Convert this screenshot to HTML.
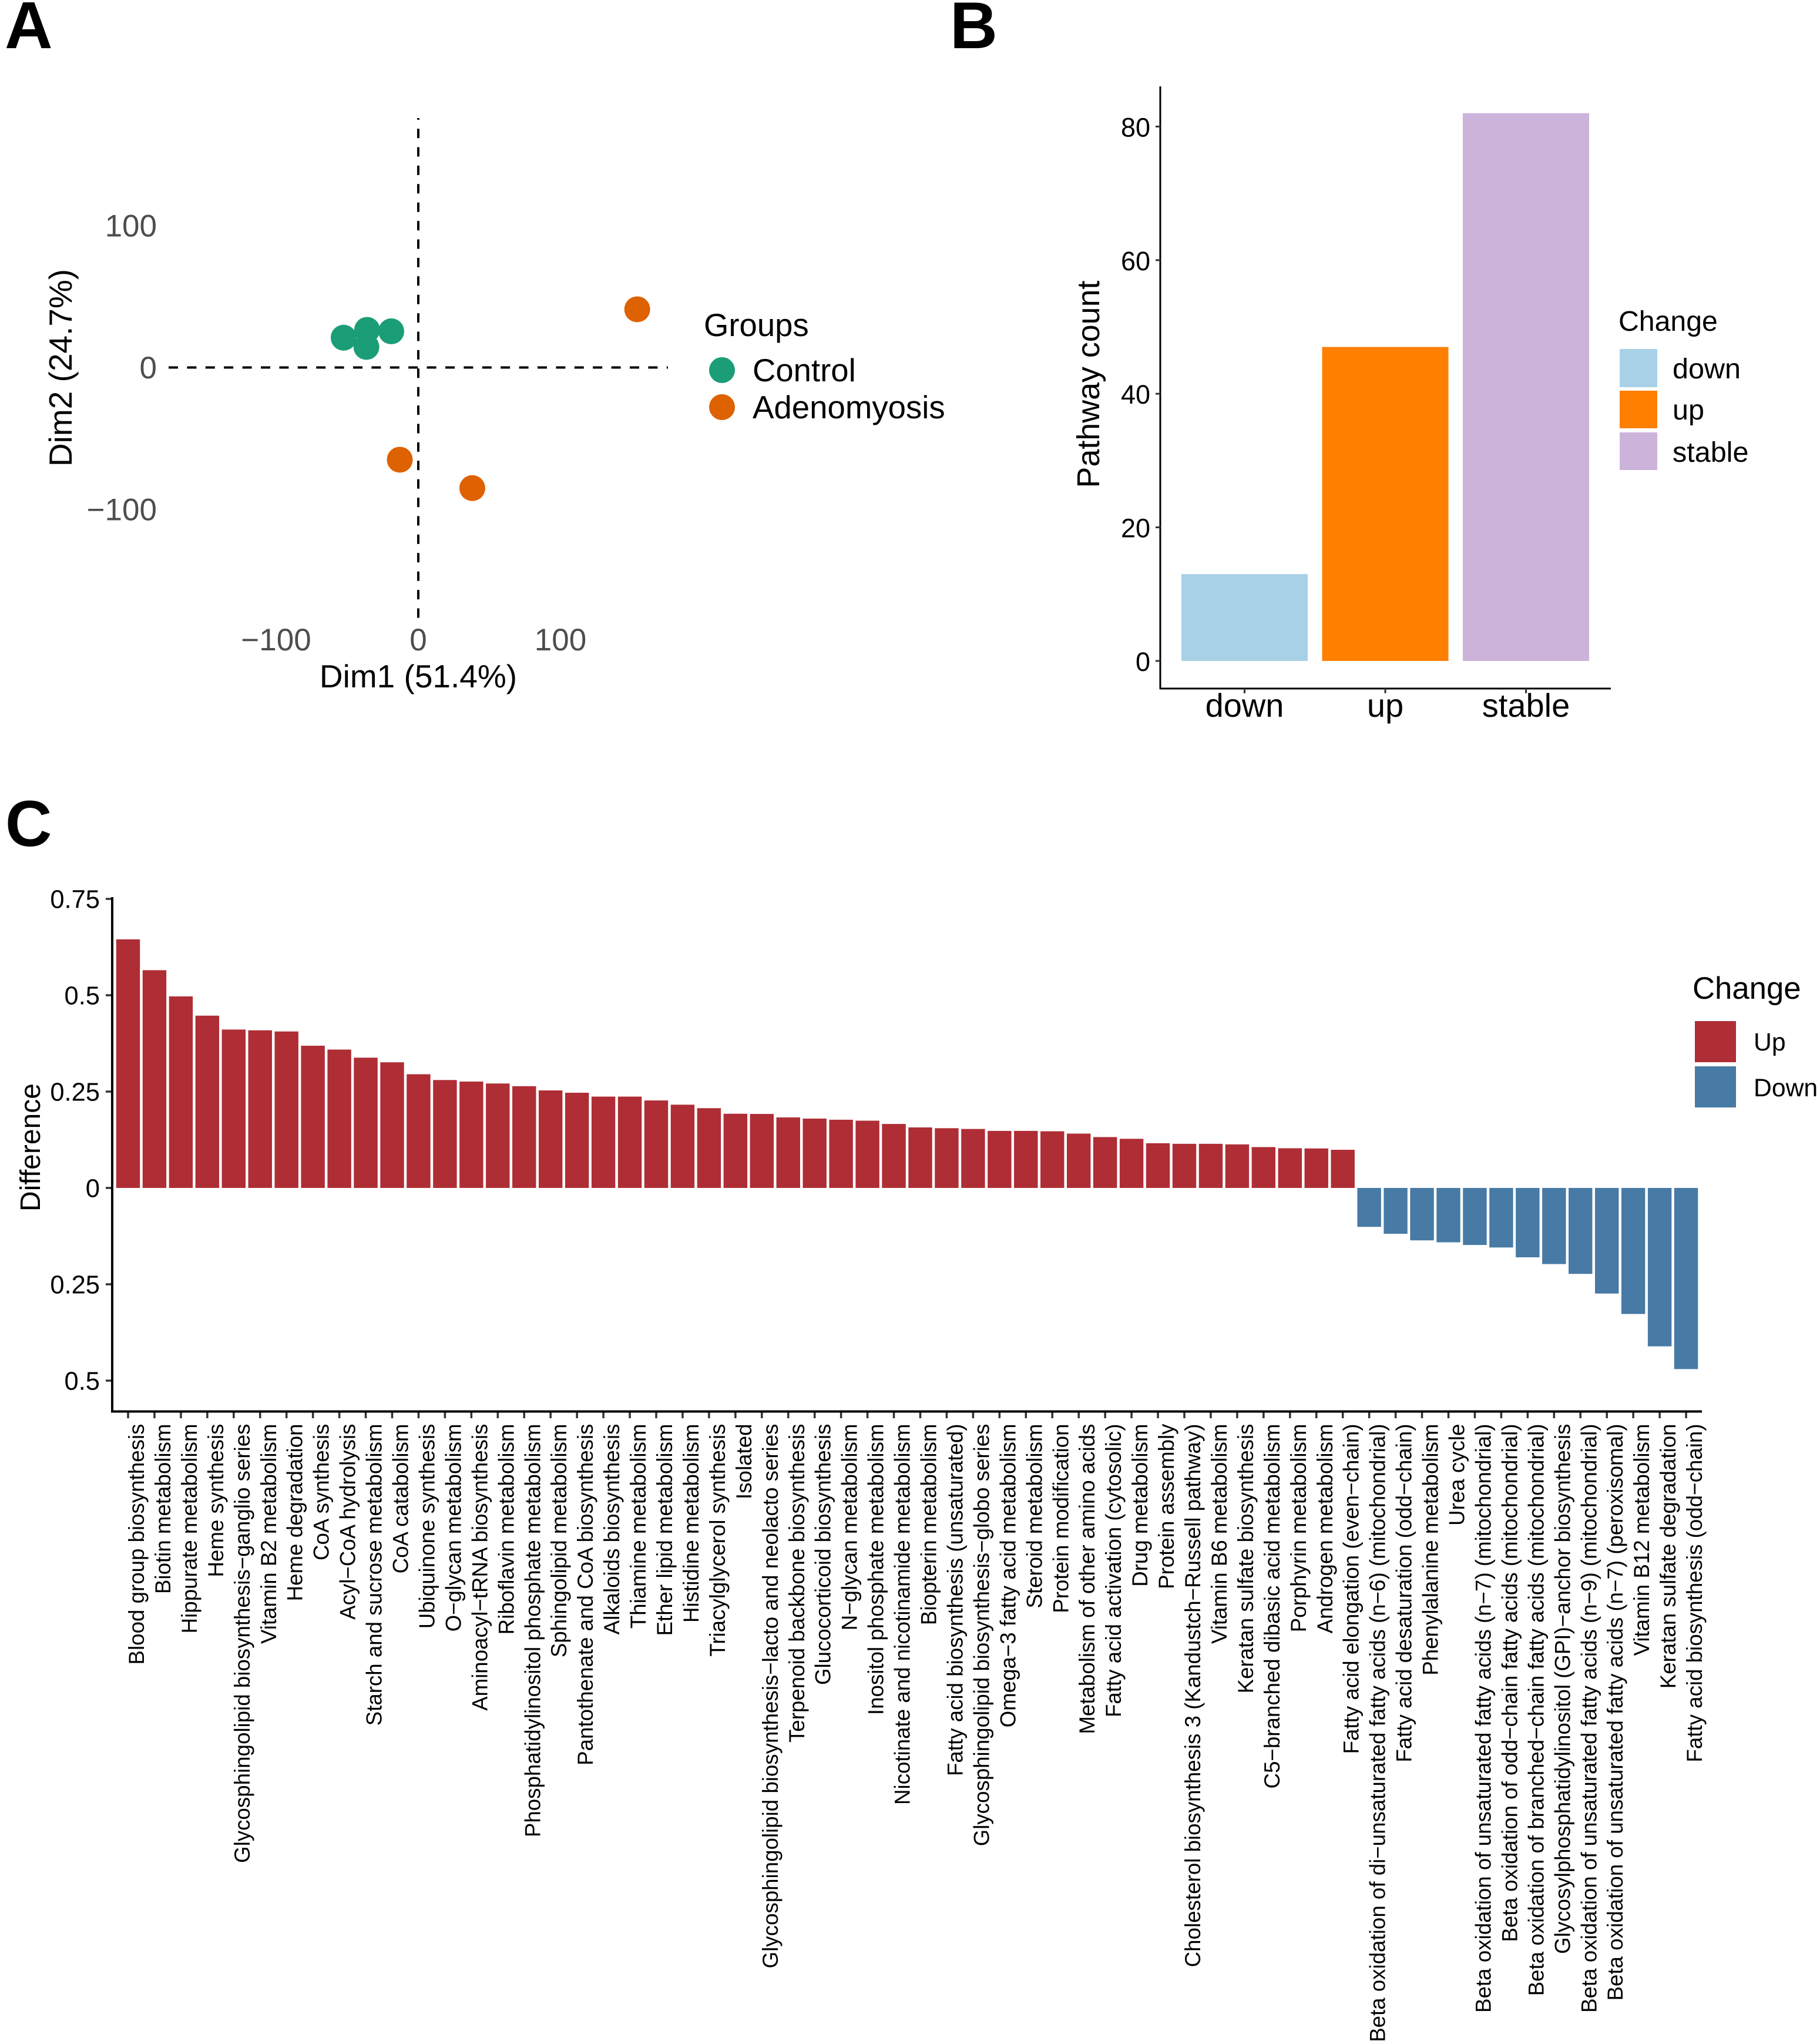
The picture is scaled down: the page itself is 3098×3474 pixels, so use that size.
<!DOCTYPE html>
<html lang="en">
<head>
<meta charset="utf-8">
<title>Pathway analysis figure</title>
<style>
html,body{margin:0;padding:0;background:#fff;}
svg{display:block;font-family:"Liberation Sans",Arial,sans-serif;}
</style>
</head>
<body>
<svg id="fig" xmlns="http://www.w3.org/2000/svg" width="3098" height="3474" viewBox="0 0 3098 3474">
  <rect x="0" y="0" width="3098" height="3474" fill="#ffffff"/>

  <text x="8" y="82" font-size="113" font-weight="700" fill="#000">A</text>
  <text x="1617" y="82" font-size="112" font-weight="700" fill="#000">B</text>
  <text x="9" y="1440" font-size="110" font-weight="700" fill="#000">C</text>

  <g id="panelA">
    <line x1="287" y1="625.5" x2="1137" y2="625.5" stroke="#000" stroke-width="4" stroke-dasharray="16 15.4"/>
    <line x1="712" y1="201" x2="712" y2="1052" stroke="#000" stroke-width="4" stroke-dasharray="16 15.4" stroke-dashoffset="13.3"/>
    <text x="712" y="1170" font-size="55" text-anchor="middle" fill="#000">Dim1 (51.4%)</text>
    <text transform="translate(122,626) rotate(-90)" font-size="55" text-anchor="middle" fill="#000">Dim2 (24.7%)</text>
    <text x="1198" y="572" font-size="54.5" fill="#000">Groups</text>
    <circle cx="1229" cy="630" r="22" fill="#1b9e77"/>
    <text x="1281" y="649" font-size="54.5" fill="#000">Control</text>
    <circle cx="1229" cy="693" r="22" fill="#de6102"/>
    <text x="1281" y="712" font-size="54.6" fill="#000">Adenomyosis</text>
  </g>

  <g id="panelB">
    <line x1="1975" y1="147" x2="1975" y2="1173" stroke="#000" stroke-width="3"/>
    <line x1="1974" y1="1172" x2="2742" y2="1172" stroke="#000" stroke-width="3"/>
    <text transform="translate(1871,654) rotate(-90)" font-size="53.8" text-anchor="middle" fill="#000">Pathway count</text>
    <text x="2755" y="563" font-size="48.2" fill="#000">Change</text>
    <rect x="2757" y="594" width="64" height="65" fill="#a8d1e7"/>
    <text x="2847" y="644" font-size="48.5" fill="#000">down</text>
    <rect x="2757" y="665" width="64" height="64" fill="#ff7f00"/>
    <text x="2847" y="714" font-size="48.5" fill="#000">up</text>
    <rect x="2757" y="736" width="64" height="64" fill="#cbb3da"/>
    <text x="2847" y="786" font-size="48.5" fill="#000">stable</text>
  </g>

  <g id="panelC">
    <text transform="translate(68,1953) rotate(-90)" font-size="48" text-anchor="middle" fill="#000">Difference</text>
    <text x="2881" y="1700" font-size="52.7" fill="#000">Change</text>
    <rect x="2885" y="1738" width="70" height="70" fill="#af2d35"/>
    <text x="2985" y="1788" font-size="42.7" fill="#000">Up</text>
    <rect x="2885" y="1815" width="70" height="70" fill="#477aa5"/>
    <text x="2985" y="1866" font-size="42.7" fill="#000">Down</text>
  </g>
</svg>
<script>
// Panel A data
const pcaControlX = [-52.5, -36, -36.5, -19];
const pcaControlY = [21, 26.5, 14.5, 25.5];
const pcaAdenoX = [154, -13, 38];
const pcaAdenoY = [41, -65, -85];
const pcaXTicks = [-100, 0, 100];
const pcaYTicks = [100, 0, -100];

// Panel B data
const countCategories = ['down', 'up', 'stable'];
const countValues = [13, 47, 82];
const countColors = ['#a8d1e7', '#ff7f00', '#cbb3da'];
const countYTicks = [0, 20, 40, 60, 80];

// Panel C data
const pathwayNames = [
  'Blood group biosynthesis','Biotin metabolism','Hippurate metabolism','Heme synthesis',
  'Glycosphingolipid biosynthesis\u2212ganglio series','Vitamin B2 metabolism','Heme degradation','CoA synthesis',
  'Acyl\u2212CoA hydrolysis','Starch and sucrose metabolism','CoA catabolism','Ubiquinone synthesis',
  'O\u2212glycan metabolism','Aminoacyl\u2212tRNA biosynthesis','Riboflavin metabolism','Phosphatidylinositol phosphate metabolism',
  'Sphingolipid metabolism','Pantothenate and CoA biosynthesis','Alkaloids biosynthesis','Thiamine metabolism',
  'Ether lipid metabolism','Histidine metabolism','Triacylglycerol synthesis','Isolated',
  'Glycosphingolipid biosynthesis\u2212lacto and neolacto series','Terpenoid backbone biosynthesis','Glucocorticoid biosynthesis','N\u2212glycan metabolism',
  'Inositol phosphate metabolism','Nicotinate and nicotinamide metabolism','Biopterin metabolism','Fatty acid biosynthesis (unsaturated)',
  'Glycosphingolipid biosynthesis\u2212globo series','Omega\u22123 fatty acid metabolism','Steroid metabolism','Protein modification',
  'Metabolism of other amino acids','Fatty acid activation (cytosolic)','Drug metabolism','Protein assembly',
  'Cholesterol biosynthesis 3 (Kandustch\u2212Russell pathway)','Vitamin B6 metabolism','Keratan sulfate biosynthesis','C5\u2212branched dibasic acid metabolism',
  'Porphyrin metabolism','Androgen metabolism','Fatty acid elongation (even\u2212chain)',
  'Beta oxidation of di\u2212unsaturated fatty acids (n\u22126) (mitochondrial)','Fatty acid desaturation (odd\u2212chain)','Phenylalanine metabolism','Urea cycle',
  'Beta oxidation of unsaturated fatty acids (n\u22127) (mitochondrial)','Beta oxidation of odd\u2212chain fatty acids (mitochondrial)',
  'Beta oxidation of branched\u2212chain fatty acids (mitochondrial)','Glycosylphosphatidylinositol (GPI)\u2212anchor biosynthesis',
  'Beta oxidation of unsaturated fatty acids (n\u22129) (mitochondrial)','Beta oxidation of unsaturated fatty acids (n\u22127) (peroxisomal)',
  'Vitamin B12 metabolism','Keratan sulfate degradation','Fatty acid biosynthesis (odd\u2212chain)'
];
const pathwayDifferences = [
  0.645,0.565,0.497,0.447,0.411,0.409,0.406,0.369,0.359,0.338,
  0.326,0.295,0.280,0.276,0.271,0.264,0.253,0.247,0.237,0.237,
  0.227,0.216,0.207,0.1925,0.192,0.183,0.180,0.177,0.1745,0.166,
  0.157,0.155,0.153,0.148,0.148,0.147,0.141,0.132,0.1275,0.116,
  0.1145,0.1145,0.113,0.106,0.103,0.1025,0.099,
  -0.101,-0.119,-0.136,-0.141,-0.148,-0.1545,-0.180,-0.1975,-0.223,-0.274,-0.327,-0.411,-0.470
];
const diffTickValues = [0.75, 0.5, 0.25, 0, -0.25, -0.5];
const diffTickLabels = ['0.75', '0.5', '0.25', '0', '0.25', '0.5'];

const NS = 'http://www.w3.org/2000/svg';
function mk(parent, tag, attrs, txt) {
  const e = document.createElementNS(NS, tag);
  for (const k in attrs) e.setAttribute(k, attrs[k]);
  if (txt !== undefined) e.textContent = txt;
  parent.appendChild(e);
  return e;
}

// ---------- Panel A ----------
const gA = document.getElementById('panelA');
const ax = v => 712 + v * 2.42;
const ay = v => 625.5 - v * 2.415;
pcaXTicks.forEach(v => {
  const t = mk(gA, 'text', {x: ax(v), y: 1107, 'font-size': 53, 'text-anchor': 'middle', fill: '#4d4d4d'}, String(v).replace('-', '\u2212'));
  
  
});
pcaYTicks.forEach(v => {
  const t = mk(gA, 'text', {x: 267, y: ay(v) + 18.5, 'font-size': 53, 'text-anchor': 'end', fill: '#4d4d4d'}, String(v).replace('-', '\u2212'));
  
  
});
pcaControlX.forEach((v, i) => {
  const c = mk(gA, 'circle', {cx: ax(v), cy: ay(pcaControlY[i]), r: 22, fill: '#1b9e77'});
  
  
});
pcaAdenoX.forEach((v, i) => {
  const c = mk(gA, 'circle', {cx: ax(v), cy: ay(pcaAdenoY[i]), r: 22, fill: '#de6102'});
  
  
});

// ---------- Panel B ----------
const gB = document.getElementById('panelB');
const bx = i => 2118.5 + i * 239.5;
const by = v => 1125 - v * 11.37;
countValues.forEach((v, i) => {
  const r = mk(gB, 'rect', {x: bx(i) - 107.5, y: by(v), width: 215, height: by(0) - by(v), fill: countColors[i]});
  
  
  const tk = mk(gB, 'line', {x1: bx(i), x2: bx(i), y1: 1172, y2: 1180, stroke: '#333', 'stroke-width': 3});
  
  
  const t = mk(gB, 'text', {x: bx(i), y: 1220, 'font-size': 56, 'text-anchor': 'middle', fill: '#000'}, countCategories[i]);
  
  
});
countYTicks.forEach(v => {
  const tk = mk(gB, 'line', {x1: 1967, x2: 1975, y1: by(v), y2: by(v), stroke: '#333', 'stroke-width': 3});
  
  
  const t = mk(gB, 'text', {x: 1958, y: by(v) + 17, 'font-size': 45, 'text-anchor': 'end', fill: '#000'}, String(v));
  
  
});

// ---------- Panel C ----------
const gC = document.getElementById('panelC');
const cx = i => 218 + i * 44.95;
const cy = v => 2022 - v * 656;
const barW = 40.4;
pathwayDifferences.forEach((v, i) => {
  const r = mk(gC, 'rect', {x: cx(i) - barW / 2, y: Math.min(cy(v), cy(0)), width: barW, height: Math.abs(cy(v) - cy(0)), fill: v >= 0 ? '#af2d35' : '#477aa5'});
  
  
  const tk = mk(gC, 'line', {x1: cx(i), x2: cx(i), y1: 2402, y2: 2414, stroke: '#333', 'stroke-width': 3.5});
  
  
  const t = mk(gC, 'text', {transform: 'translate(' + (cx(i) + 27) + ',2423.5) rotate(-90)', 'font-size': 36.7, 'text-anchor': 'end', fill: '#000'}, pathwayNames[i]);
  
  
});
diffTickValues.forEach((v, i) => {
  const tk = mk(gC, 'line', {x1: 180, x2: 191, y1: cy(v), y2: cy(v), stroke: '#333', 'stroke-width': 3.5});
  
  
  const t = mk(gC, 'text', {x: 170, y: cy(v) + 15.5, 'font-size': 43.5, 'text-anchor': 'end', fill: '#000'}, diffTickLabels[i]);
  
  
});
const axY = mk(gC, 'line', {x1: 191, x2: 191, y1: 1527, y2: 2404.5, stroke: '#000', 'stroke-width': 4});


const axX = mk(gC, 'line', {x1: 189, x2: 2897, y1: 2402.5, y2: 2402.5, stroke: '#000', 'stroke-width': 4});


</script>
</body>
</html>
